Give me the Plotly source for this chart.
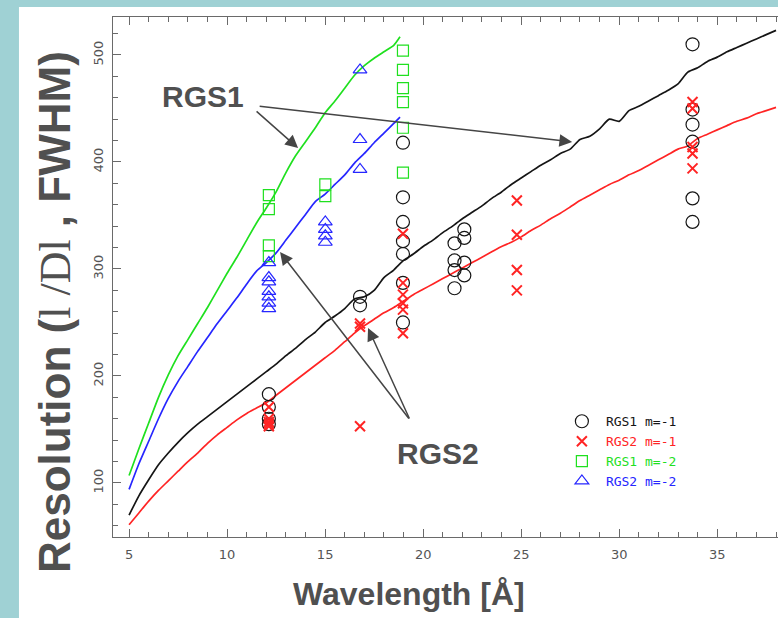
import plotly.graph_objects as go

# ---- model resolution curves (first order, 5-38 A) ----
wl_m1 = [5.0, 5.5, 6.0, 6.5, 7.0, 7.5, 8.0, 8.5, 9.0, 9.5, 10.0, 10.5, 11.0, 11.5,
         12.0, 12.5, 13.0, 13.5, 14.0, 14.5, 15.0, 15.5, 16.0, 16.5, 17.0, 17.5,
         18.0, 18.5, 19.0, 19.5, 20.0, 20.5, 21.0, 21.5, 22.0, 22.5, 23.0, 23.5,
         24.0, 24.5, 25.0, 25.5, 26.0, 26.5, 27.0, 27.5, 28.0, 28.5, 29.0, 29.5,
         30.0, 30.5, 31.0, 31.5, 32.0, 32.5, 33.0, 33.5, 34.0, 34.5, 35.0, 35.5,
         36.0, 36.5, 37.0, 37.5, 38.0]
rgs1_m1_model = [70, 88, 103, 117, 128, 138, 147, 155, 162, 169, 176, 183, 190, 197,
                 204, 211, 219, 226, 234, 241, 250, 256, 263, 272, 274, 280,
                 292, 299, 308, 314, 321, 327, 334, 340, 347, 353, 359, 366,
                 372, 379, 385, 391, 397, 402, 408, 412, 421, 424, 431, 440,
                 438, 448, 452, 457, 462, 467, 473, 484, 488, 494, 498, 503,
                 507, 511, 515, 519, 523]
rgs2_m1_model = [61, 72, 83, 93, 102, 111, 120, 128, 137, 145, 152, 159, 165, 170,
                 175, 182, 189, 196, 203, 210, 217, 224, 232, 240, 247, 253,
                 259, 264, 270, 276, 281, 286, 291, 296, 301, 306, 311, 316,
                 321, 325, 330, 336, 341, 347, 352, 358, 364, 369, 374, 379,
                 383, 388, 392, 397, 402, 407, 412, 415, 422, 426, 430, 434,
                 438, 441, 445, 448, 451]

# ---- model resolution curves (second order, 5-18.8 A) ----
wl_m2 = [5.0, 5.5, 6.0, 6.5, 7.0, 7.5, 8.0, 8.5, 9.0, 9.5, 10.0, 10.5, 11.0, 11.5,
         12.0, 12.5, 13.0, 13.5, 14.0, 14.5, 15.0, 15.5, 16.0, 16.5, 17.0, 17.5,
         18.0, 18.5, 18.82]
rgs1_m2_model = [107, 132, 156, 180, 201, 219, 234, 249, 264, 280, 296, 311, 327, 343,
                 357, 372, 390, 406, 419, 432, 446, 457, 469, 481, 490, 497,
                 503, 509, 517]
rgs2_m2_model = [94, 118, 139, 160, 179, 195, 209, 223, 236, 249, 261, 273, 286, 298,
                 306, 315, 327, 339, 351, 363, 370, 379, 388, 399, 408, 418,
                 427, 436, 442]

# ---- measured line resolutions ----
rgs1_m1_wl = [12.13, 12.13, 12.13, 12.13, 16.78, 16.78,
              18.97, 18.97, 18.97, 18.97, 18.97, 18.97, 18.97,
              21.60, 21.60, 21.60, 21.60, 22.10, 22.10, 22.10, 22.10,
              33.74, 33.74, 33.74, 33.74, 33.74, 33.74]
rgs1_m1_res = [183, 171, 160, 155, 274, 266,
               418, 367, 344, 326, 314, 287, 250,
               324, 308, 299, 282, 337, 329, 306, 294,
               510, 449, 435, 419, 366, 344]

rgs2_m1_wl = [12.13, 12.13, 12.13, 12.13, 12.13, 16.78, 16.78, 16.78,
              18.97, 18.97, 18.97, 18.97, 18.97, 18.97,
              24.78, 24.78, 24.78, 24.78,
              33.74, 33.74, 33.74, 33.74, 33.74]
rgs2_m1_res = [171, 160, 157, 155, 153, 249, 246, 153,
               333, 287, 276, 268, 262, 240,
               364, 332, 299, 280,
               456, 450, 414, 408, 394]

rgs1_m2_wl = [12.13, 12.13, 12.13, 12.13, 15.01, 15.01,
              18.97, 18.97, 18.97, 18.97, 18.97, 18.97]
rgs1_m2_res = [369, 356, 322, 312, 379, 368,
               504, 486, 469, 456, 432, 390]

rgs2_m2_wl = [12.13, 12.13, 12.13, 12.13, 12.13, 12.13, 12.13,
              15.01, 15.01, 15.01, 15.01, 16.78, 16.78, 16.78]
rgs2_m2_res = [306, 292, 288, 279, 274, 268, 263,
               344, 337, 331, 325, 486, 421, 393]

C_BLACK = "#151515"
C_RED = "#ff2424"
C_GREEN = "#1fe01f"
C_BLUE = "#2626ff"
TEXT_GREY = "#505050"
AXIS_GREY = "#6a6a6a"
FRAME_TEAL = "#9fd1d4"

fig = go.Figure()

for wl, res, col in [(wl_m1, rgs1_m1_model, C_BLACK), (wl_m1, rgs2_m1_model, C_RED),
                     (wl_m2, rgs1_m2_model, C_GREEN), (wl_m2, rgs2_m2_model, C_BLUE)]:
    fig.add_trace(go.Scatter(x=wl, y=res, mode="lines", showlegend=False,
                             line=dict(color=col, width=1.7, shape="spline", smoothing=0.6),
                             hoverinfo="skip"))

points = [
    (rgs1_m1_wl, rgs1_m1_res, "circle-open", C_BLACK, 13, 1.2, "RGS1 m=-1"),
    (rgs2_m1_wl, rgs2_m1_res, "x-thin-open", C_RED, 10, 2.0, "RGS2 m=-1"),
    (rgs1_m2_wl, rgs1_m2_res, "square-open", C_GREEN, 11, 1.2, "RGS1 m=-2"),
    (rgs2_m2_wl, rgs2_m2_res, "triangle-up-open", C_BLUE, 12, 1.2, "RGS2 m=-2"),
]
for wl, res, sym, col, size, lw, name in points:
    fig.add_trace(go.Scatter(
        x=wl, y=res, mode="markers",
        name=f"<span style='color:{col}'>{name}</span>",
        marker=dict(symbol=sym, size=size, color=col, line=dict(color=col, width=lw)),
    ))

# plot-area frame strips
fig.add_shape(type="rect", xref="paper", yref="paper", x0=-0.2, x1=-0.1414,
              y0=-0.2, y1=1.05, fillcolor=FRAME_TEAL, line_width=0, layer="below")
fig.add_shape(type="rect", xref="paper", yref="paper", x0=-0.2, x1=1.01,
              y0=1.0192, y1=1.05, fillcolor=FRAME_TEAL, line_width=0, layer="below")

ann_font = dict(family="Liberation Sans", size=30, color=TEXT_GREY)
arrow_kw = dict(showarrow=True, arrowhead=2, arrowsize=1.7, arrowwidth=1.5,
                arrowcolor="#454545", text="")
centred = dict(xref="paper", yref="paper", xanchor="center", yanchor="middle",
               showarrow=False)
annotations = [
    dict(x=0.1353, y=0.848, text="<b>RGS1</b>", font=ann_font, **centred),
    dict(x=0.4887, y=0.1615, text="<b>RGS2</b>", font=ann_font, **centred),
    dict(x=13.62, y=413, ax=-43, ay=-38, **arrow_kw),
    dict(x=27.6, y=418.7, ax=-314, ay=-36, **arrow_kw),
    dict(x=12.7, y=315.8, ax=130, ay=168, **arrow_kw),
    dict(x=17.19, y=244.8, ax=42, ay=92, **arrow_kw),
    dict(x=0.445, y=-0.1096, text="<b>Wavelength [Å]</b>",
         font=dict(family="Liberation Sans", size=32, color=TEXT_GREY), **centred),
    dict(x=-0.0872, y=0.4327, textangle=-90,
         text="<b>Resolution (</b><span style='font-family:Liberation Serif'>l /Dl</span><b> , FWHM)</b>",
         font=dict(family="Liberation Sans", size=44, color=TEXT_GREY), **centred),
]

axis_common = dict(showline=True, linecolor=AXIS_GREY, linewidth=1, ticks="inside",
                   tickcolor=AXIS_GREY, showgrid=False, zeroline=False,
                   tickfont=dict(family="DejaVu Sans", size=13, color="#555"))

fig.update_layout(
    width=778, height=618,
    margin=dict(l=113, r=0, t=17, b=81, pad=0),
    paper_bgcolor="white", plot_bgcolor="white",
    annotations=annotations,
    xaxis=dict(range=[4.18, 38.1], tick0=0, dtick=5, ticklen=8, mirror="ticks",
               ticklabelstandoff=5,
               minor=dict(dtick=1, ticks="inside", ticklen=5, tickcolor=AXIS_GREY),
               **axis_common),
    yaxis=dict(range=[49.5, 535.5], tick0=0, dtick=100, ticklen=8, tickangle=-90,
               ticklabelstandoff=4,
               minor=dict(dtick=20, ticks="inside", ticklen=5, tickcolor=AXIS_GREY),
               **axis_common),
    legend=dict(x=0.669, y=0.2513, xanchor="left", yanchor="top",
                bgcolor="rgba(0,0,0,0)", borderwidth=0, tracegroupgap=0,
                itemwidth=38,
                font=dict(family="DejaVu Sans Mono", size=13, color="#222")),
    showlegend=True,
)

fig.write_html("out.html")
